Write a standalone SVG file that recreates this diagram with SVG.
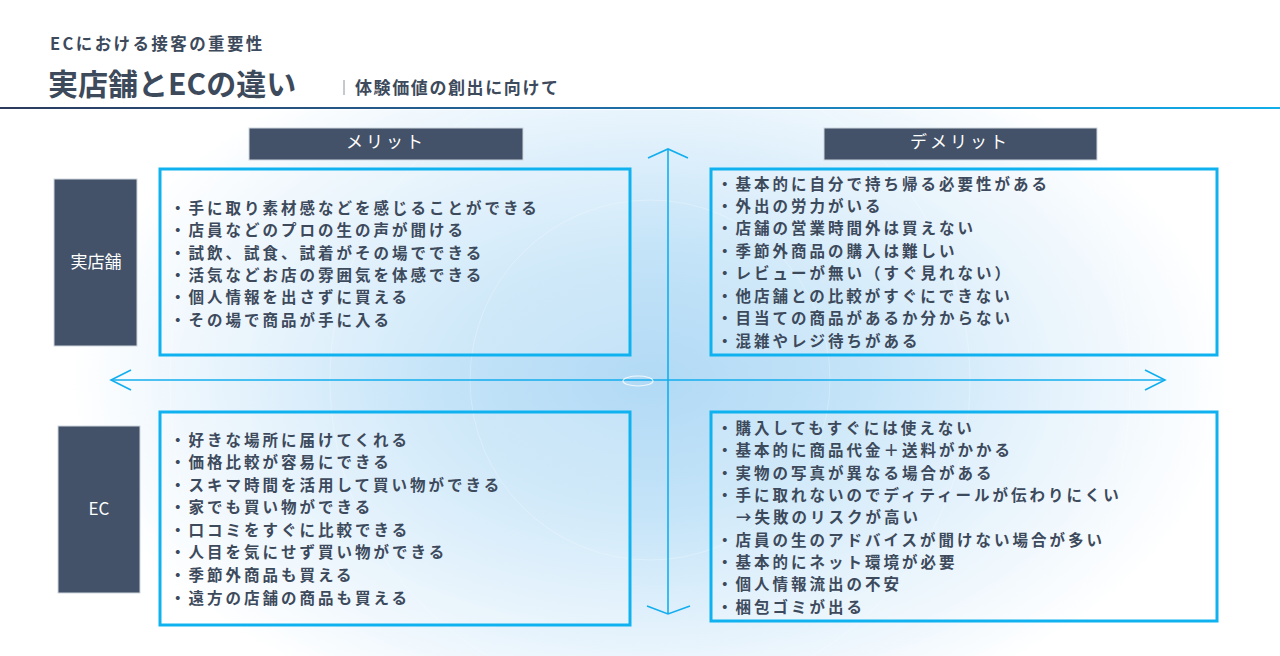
<svg xmlns="http://www.w3.org/2000/svg" width="1280" height="656" viewBox="0 0 1280 656">
<defs>
<radialGradient id="glow" gradientUnits="userSpaceOnUse" cx="650" cy="380" r="580" gradientTransform="translate(650 380) scale(1 0.62) translate(-650 -380)">
<stop offset="0" stop-color="#b2daf5"/>
<stop offset="0.35" stop-color="#c3e3f8"/>
<stop offset="0.7" stop-color="#e4f2fc"/>
<stop offset="1" stop-color="#ffffff"/>
</radialGradient>
<linearGradient id="hline" x1="0" y1="0" x2="1" y2="0">
<stop offset="0" stop-color="#2b3a5e"/>
<stop offset="0.5" stop-color="#1f6fa8"/>
<stop offset="1" stop-color="#10aeea"/>
</linearGradient>
<style>
.head{fill:#3d4a5c;font-family:"Noto Sans CJK JP","Noto Sans",sans-serif;font-weight:700}
.lbl{fill:#435268;stroke:#d0d6de;stroke-width:1}
.lbltxt{fill:#ffffff;font-family:"Noto Sans CJK JP","Noto Sans",sans-serif;font-size:17px;text-anchor:middle}
.box{fill:#ffffff;fill-opacity:0.22;stroke:#0fb2ef;stroke-width:3}
.item{fill:#3d4a5c;font-family:"Noto Sans CJK JP","Noto Sans",sans-serif;font-size:15.5px;font-weight:700;letter-spacing:3px}
.axis{stroke:#12aeee;stroke-width:1.6;fill:none}
</style>
</defs>
<rect width="1280" height="656" fill="#ffffff"/>
<rect x="0" y="110" width="1280" height="546" fill="url(#glow)"/>
<g fill="none" stroke="#ffffff" stroke-opacity="0.25" stroke-width="1">
<circle cx="650" cy="380" r="180"/>
<circle cx="650" cy="380" r="320"/>
<circle cx="650" cy="380" r="480"/>
</g>

<g id="header">
<text class="head" x="50" y="50" font-size="16.5" letter-spacing="2.4">ECにおける接客の重要性</text>
<text class="head" x="48" y="95" font-size="30">実店舗とECの違い</text>
<line x1="344" y1="80" x2="344" y2="95" stroke="#8a93a0" stroke-width="1"/>
<text class="head" x="355" y="94" font-size="17" letter-spacing="1.6">体験価値の創出に向けて</text>
<rect x="0" y="107" width="1280" height="2" fill="url(#hline)"/>
</g>

<g id="connectors">
<line class="axis" x1="668" y1="149" x2="668" y2="614"/>
<polyline class="axis" points="648,158 668,149 688,158"/>
<polyline class="axis" points="647,606 668,614 690,606"/>
<line class="axis" x1="111" y1="380" x2="1165" y2="380"/>
<polyline class="axis" points="131,370 111,380 131,390"/>
<polyline class="axis" points="1145,370 1165,380 1145,390"/>
<ellipse cx="638" cy="381" rx="15" ry="5" fill="none" stroke="#ffffff" stroke-opacity="0.8" stroke-width="1.2"/>
</g>

<g id="merit-header">
<rect class="lbl" x="249" y="128" width="274" height="32"/>
<text class="lbltxt" x="386" y="148" letter-spacing="3">メリット</text>
</g>
<g id="demerit-header">
<rect class="lbl" x="824" y="128" width="273" height="32"/>
<text class="lbltxt" x="960" y="148" letter-spacing="3">デメリット</text>
</g>
<g id="store-label">
<rect class="lbl" x="54" y="179" width="83" height="167"/>
<text class="lbltxt" x="96" y="268">実店舗</text>
</g>
<g id="ec-label">
<rect class="lbl" x="58" y="426" width="82" height="167"/>
<text class="lbltxt" x="99" y="515">EC</text>
</g>

<g id="store-merit">
<rect class="box" x="160" y="169" width="470" height="186"/>
<text class="item" x="170" y="214">・手に取り素材感などを感じることができる</text>
<text class="item" x="170" y="236">・店員などのプロの生の声が聞ける</text>
<text class="item" x="170" y="259">・試飲、試食、試着がその場でできる</text>
<text class="item" x="170" y="281">・活気などお店の雰囲気を体感できる</text>
<text class="item" x="170" y="303">・個人情報を出さずに買える</text>
<text class="item" x="170" y="326">・その場で商品が手に入る</text>
</g>

<g id="store-demerit">
<rect class="box" x="711" y="169" width="506" height="186"/>
<text class="item" x="717" y="190">・基本的に自分で持ち帰る必要性がある</text>
<text class="item" x="717" y="212">・外出の労力がいる</text>
<text class="item" x="717" y="234">・店舗の営業時間外は買えない</text>
<text class="item" x="717" y="257">・季節外商品の購入は難しい</text>
<text class="item" x="717" y="279">・レビューが無い（すぐ見れない）</text>
<text class="item" x="717" y="302">・他店舗との比較がすぐにできない</text>
<text class="item" x="717" y="324">・目当ての商品があるか分からない</text>
<text class="item" x="717" y="347">・混雑やレジ待ちがある</text>
</g>

<g id="ec-merit">
<rect class="box" x="160" y="412" width="470" height="213"/>
<text class="item" x="170" y="446">・好きな場所に届けてくれる</text>
<text class="item" x="170" y="468">・価格比較が容易にできる</text>
<text class="item" x="170" y="491">・スキマ時間を活用して買い物ができる</text>
<text class="item" x="170" y="513">・家でも買い物ができる</text>
<text class="item" x="170" y="536">・口コミをすぐに比較できる</text>
<text class="item" x="170" y="558">・人目を気にせず買い物ができる</text>
<text class="item" x="170" y="581">・季節外商品も買える</text>
<text class="item" x="170" y="604">・遠方の店舗の商品も買える</text>
</g>

<g id="ec-demerit">
<rect class="box" x="711" y="412" width="506" height="209"/>
<text class="item" x="717" y="434">・購入してもすぐには使えない</text>
<text class="item" x="717" y="456">・基本的に商品代金＋送料がかかる</text>
<text class="item" x="717" y="479">・実物の写真が異なる場合がある</text>
<text class="item" x="717" y="501">・手に取れないのでディティールが伝わりにくい</text>
<text class="item" x="736" y="523">→失敗のリスクが高い</text>
<text class="item" x="717" y="546">・店員の生のアドバイスが聞けない場合が多い</text>
<text class="item" x="717" y="568">・基本的にネット環境が必要</text>
<text class="item" x="717" y="590">・個人情報流出の不安</text>
<text class="item" x="717" y="613">・梱包ゴミが出る</text>
</g>
</svg>
